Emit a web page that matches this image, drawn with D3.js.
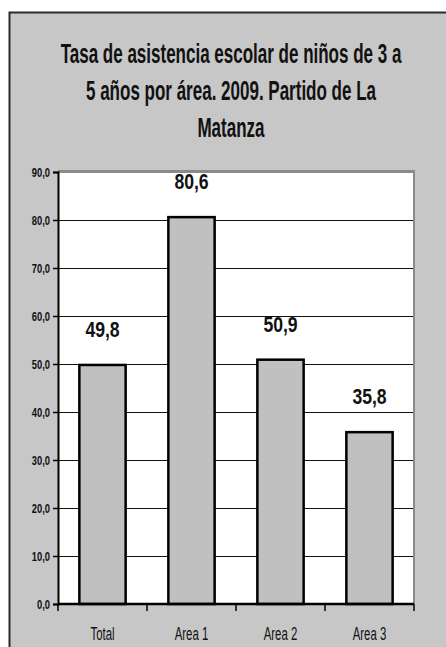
<!DOCTYPE html>
<html>
<head>
<meta charset="utf-8">
<script src="https://cdn.jsdelivr.net/npm/d3@7"></script>
<style>
html,body{margin:0;padding:0;background:#fff;}
svg{display:block;}
text{font-family:"Liberation Sans Narrow","Arial Narrow","Liberation Sans",Arial,sans-serif;fill:#111;}
</style>
</head>
<body>
<svg id="chart" width="446" height="647"></svg>
<script>
const titleLines = ["Tasa de asistencia escolar de niños de 3 a", "5 años por área. 2009. Partido de La", "Matanza"];
const categories = ["Total", "Area 1", "Area 2", "Area 3"];
const values = [49.8, 80.6, 50.9, 35.8];
const valueLabels = ["49,8", "80,6", "50,9", "35,8"];
const yTicks = [0, 10, 20, 30, 40, 50, 60, 70, 80, 90];
const yTickLabels = ["0,0", "10,0", "20,0", "30,0", "40,0", "50,0", "60,0", "70,0", "80,0", "90,0"];

const svg = d3.select("#chart");
const plot = {left: 58, right: 414, top: 172, bottom: 604};

// outer frame
svg.append("rect").attr("x", 9.5).attr("y", 12.5).attr("width", 450).attr("height", 650)
  .attr("fill", "#c7c7c7").attr("stroke", "#2a2a2a").attr("stroke-width", 2);

// title
const title = svg.append("g").attr("transform", "translate(231,0) scale(0.63,1)");
titleLines.forEach((t, i) => {
  title.append("text").attr("x", 0).attr("y", 63 + i * 37)
    .attr("text-anchor", "middle").attr("font-size", 27).attr("font-weight", "bold")
    .text(t);
});

const x = d3.scaleBand().domain(categories).range([plot.left, plot.right]).paddingInner(0.48).paddingOuter(0.24);
const xOuter = d3.scaleBand().domain(categories).range([plot.left, plot.right]);
const y = d3.scaleLinear().domain([0, 90]).range([plot.bottom, plot.top]);

// plot area
svg.append("rect").attr("x", plot.left).attr("y", plot.top).attr("width", plot.right - plot.left).attr("height", plot.bottom - plot.top)
  .attr("fill", "#fff");
svg.append("line").attr("x1", plot.left).attr("x2", plot.right + 1).attr("y1", plot.top - 0.5).attr("y2", plot.top - 0.5)
  .attr("stroke", "#8a8a8a").attr("stroke-width", 3);
svg.append("line").attr("x1", plot.right).attr("x2", plot.right).attr("y1", plot.top - 2).attr("y2", plot.bottom)
  .attr("stroke", "#8a8a8a").attr("stroke-width", 2);

// gridlines
svg.append("g").selectAll("line").data(yTicks.filter(d => d > 0 && d < 90)).join("line")
  .attr("x1", plot.left).attr("x2", plot.right - 1)
  .attr("y1", d => Math.round(y(d)) + 0.5).attr("y2", d => Math.round(y(d)) + 0.5)
  .attr("stroke", "#111").attr("stroke-width", 1.2);

// bars
svg.append("g").selectAll("rect").data(values).join("rect")
  .attr("x", (d, i) => x(categories[i]))
  .attr("y", d => y(d))
  .attr("width", x.bandwidth())
  .attr("height", d => plot.bottom - y(d))
  .attr("fill", "#c0c0c0").attr("stroke", "#000").attr("stroke-width", 2.5);

// value labels
svg.append("g").selectAll("text").data(values).join("text")
  .attr("transform", (d, i) => `translate(${x(categories[i]) + x.bandwidth() / 2},${y(d) - 28}) scale(0.8,1)`)
  .attr("text-anchor", "middle").attr("font-size", 22).attr("font-weight", "bold")
  .text((d, i) => valueLabels[i]);

// y axis
const yAxis = d3.axisLeft(y).tickValues(yTicks).tickSize(5).tickFormat(() => "");
const ya = svg.append("g").attr("transform", `translate(${plot.left},0)`).call(yAxis);
ya.select(".domain").attr("stroke", "#000").attr("stroke-width", 2);
ya.selectAll(".tick line").attr("stroke", "#000").attr("stroke-width", 1.5);
svg.append("g").selectAll("text").data(yTicks).join("text")
  .attr("transform", d => `translate(50,${y(d) + 4.5}) scale(0.72,1)`)
  .attr("text-anchor", "end").attr("font-size", 13).attr("font-weight", "bold").attr("fill", "#333")
  .text((d, i) => yTickLabels[i]);

// x axis
const xa = svg.append("g").attr("transform", `translate(0,${plot.bottom})`);
xa.append("line").attr("x1", plot.left).attr("x2", plot.right).attr("y1", 0).attr("y2", 0)
  .attr("stroke", "#000").attr("stroke-width", 2.5);
const bounds = categories.map(c => xOuter(c)).concat([plot.right]);
xa.selectAll("line.tk").data(bounds).join("line").attr("class", "tk")
  .attr("x1", d => d).attr("x2", d => d).attr("y1", 0).attr("y2", 7)
  .attr("stroke", "#000").attr("stroke-width", 1.5);
xa.selectAll("text").data(categories).join("text")
  .attr("transform", d => `translate(${xOuter(d) + xOuter.bandwidth() / 2},36) scale(0.6,1)`)
  .attr("text-anchor", "middle").attr("font-size", 19).attr("fill", "#222")
  .text(d => d);
</script>
</body>
</html>
